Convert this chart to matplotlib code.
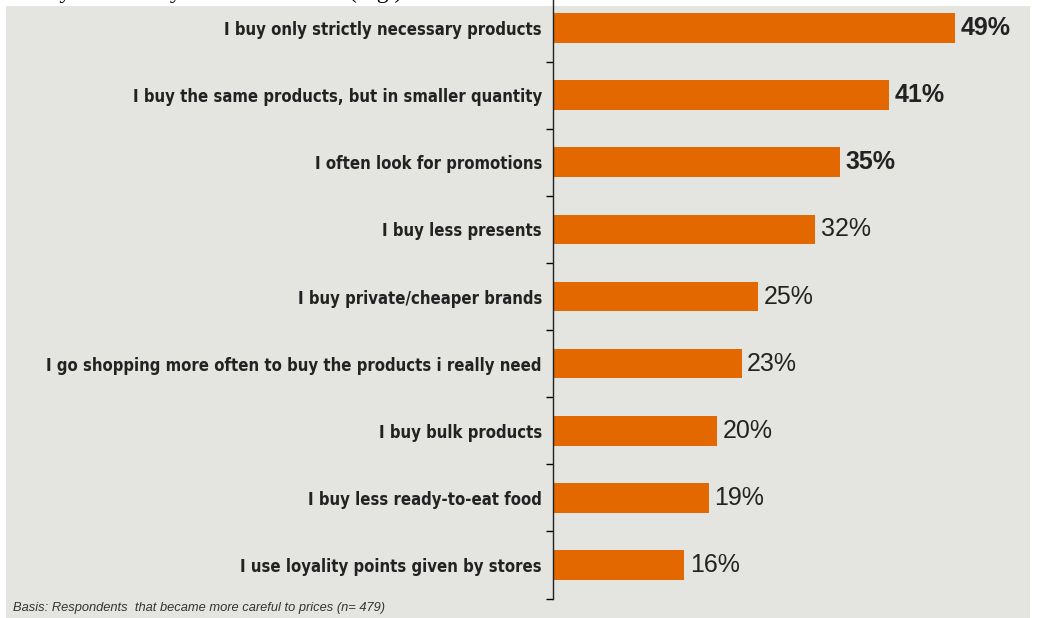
import matplotlib.pyplot as plt
from matplotlib.patches import Rectangle
import numpy as np

categories = [
    "I buy only strictly necessary products",
    "I buy the same products, but in smaller quantity",
    "I often look for promotions",
    "I buy less presents",
    "I buy private/cheaper brands",
    "I go shopping more often to buy the products i really need",
    "I buy bulk products",
    "I buy less ready-to-eat food",
    "I use loyality points given by stores",
]
values = [49, 41, 35, 32, 25, 23, 20, 19, 16]
footnote = "Basis: Respondents  that became more careful to prices (n= 479)"
top_text = "survey realized by Nielsen Institute (Fig.)."

orange = "#e36800"
grey = "#e4e4e1"
txt = "#222222"

fig = plt.figure(figsize=(10.4, 6.18), dpi=100)
fig.patch.set_facecolor("white")

# grey panel behind the chart
fig.patches.append(Rectangle((6 / 1040, 0), 1024 / 1040, 612 / 618,
                             transform=fig.transFigure, facecolor=grey,
                             edgecolor="none", zorder=-10))

# clipped caption line from the page above
fig.text(8 / 1040, 1 + 2 / 618, top_text, family="Liberation Serif",
         fontsize=17, color="black", va="baseline", ha="left")

ax = fig.add_axes([553 / 1040, 1 - 598.6 / 618, 477 / 1040, 604.2 / 618])
ax.set_facecolor("none")

y = np.arange(len(categories))
ax.barh(y, values, height=0.44, color=orange, zorder=2)
ax.set_xlim(0, 58.2)
ax.set_ylim(len(categories) - 0.5, -0.5)

for yi, v in zip(y, values):
    ax.text(v + 0.7, yi, f"{v}%", va="center", ha="left",
            family="Liberation Sans", fontsize=18,
            fontweight="bold" if v >= 35 else "normal", color=txt)

ax.set_yticks(y)
ax.set_yticklabels(categories, family="DejaVu Sans", fontstretch="condensed",
                   fontsize=12, fontweight="bold", color=txt)
ax.set_yticks(np.arange(len(categories) + 1) - 0.5, minor=True)
ax.tick_params(axis="y", which="major", length=0, pad=8)
ax.tick_params(axis="y", which="minor", length=5, direction="out", width=1)
ax.set_xticks([])

for s in ["top", "right", "bottom"]:
    ax.spines[s].set_visible(False)
ax.spines["left"].set_color("#222222")
ax.spines["left"].set_linewidth(1)

fig.text(13 / 1040, 1 - 608 / 618, footnote, family="Liberation Sans",
         fontsize=9.3, style="italic", color="#333333", va="center", ha="left")

fig.savefig("out.png", dpi=100)
